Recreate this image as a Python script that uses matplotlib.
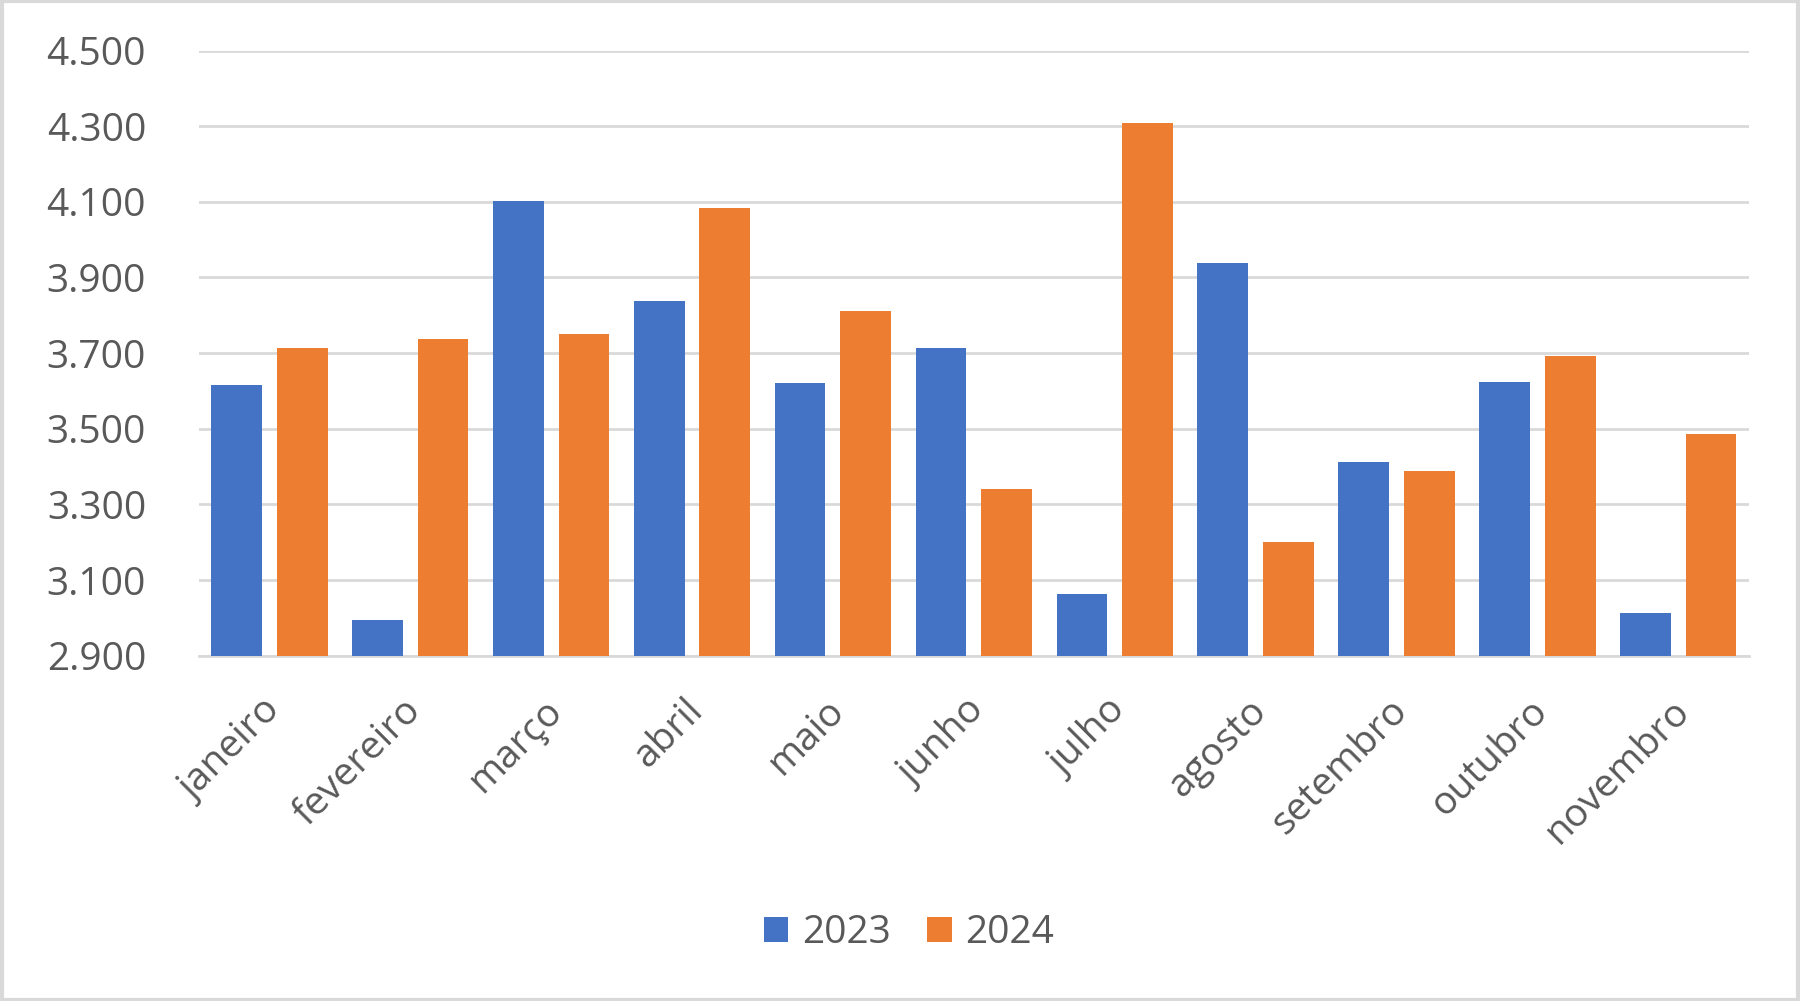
import matplotlib
matplotlib.use("Agg")
import matplotlib.pyplot as plt
import matplotlib.transforms as mtransforms
import numpy as np
from matplotlib.patches import Rectangle

months = ["janeiro", "fevereiro", "março", "abril", "maio", "junho",
          "julho", "agosto", "setembro", "outubro", "novembro"]
v2023 = [3616, 2994, 4102, 3838, 3620, 3714, 3064, 3938, 3413, 3623, 3012]
v2024 = [3714, 3738, 3750, 4084, 3811, 3340, 4309, 3200, 3389, 3692, 3486]
yticks = [2900, 3100, 3300, 3500, 3700, 3900, 4100, 4300, 4500]
ytick_labels = ["2.900", "3.100", "3.300", "3.500", "3.700", "3.900", "4.100", "4.300", "4.500"]

plt.rcParams['font.family'] = ['Open Sans', 'DejaVu Sans']
txt = "#595959"

fig = plt.figure(figsize=(18, 10.01), dpi=100)
ax = fig.add_axes([0.1105, 0.345, 0.861, 0.6045])

x = np.arange(len(months))
w = 0.36
off = 0.233
ax.bar(x - off, v2023, w, color="#4472C4", label="2023", zorder=3)
ax.bar(x + off, v2024, w, color="#ED7D31", label="2024", zorder=3)

ax.set_xlim(-0.5, len(months) - 0.5)
ax.set_ylim(2900, 4500)
ax.set_yticks(yticks)
ax.set_yticklabels(ytick_labels, fontsize=28, color=txt)
ax.set_xticks(x)
ax.set_xticklabels(months, rotation=45, ha="right", rotation_mode="anchor",
                   fontsize=28, color=txt)
ax.tick_params(axis="both", length=0)
ax.tick_params(axis="y", pad=38)
ax.tick_params(axis="x", pad=26)
shift = mtransforms.ScaledTranslation(-0.08, 0, fig.dpi_scale_trans)
for lbl in ax.get_xticklabels():
    lbl.set_transform(lbl.get_transform() + shift)
ax.grid(axis="y", color="#D9D9D9", linewidth=2, zorder=0)
for s in ["top", "right", "left"]:
    ax.spines[s].set_visible(False)
ax.spines["bottom"].set_color("#D9D9D9")
ax.spines["bottom"].set_linewidth(2)

leg = fig.legend(loc="center", bbox_to_anchor=(0.505, 0.068), ncol=2,
                 frameon=False, fontsize=28, handlelength=0.62, handleheight=0.62,
                 handletextpad=0.35, columnspacing=0.95)
for t in leg.get_texts():
    t.set_color(txt)

fig.patches.append(Rectangle((0.001, 0.001), 0.998, 0.998, transform=fig.transFigure,
                             fill=False, edgecolor="#D9D9D9", linewidth=3))

fig.savefig("out.png", dpi=100)
